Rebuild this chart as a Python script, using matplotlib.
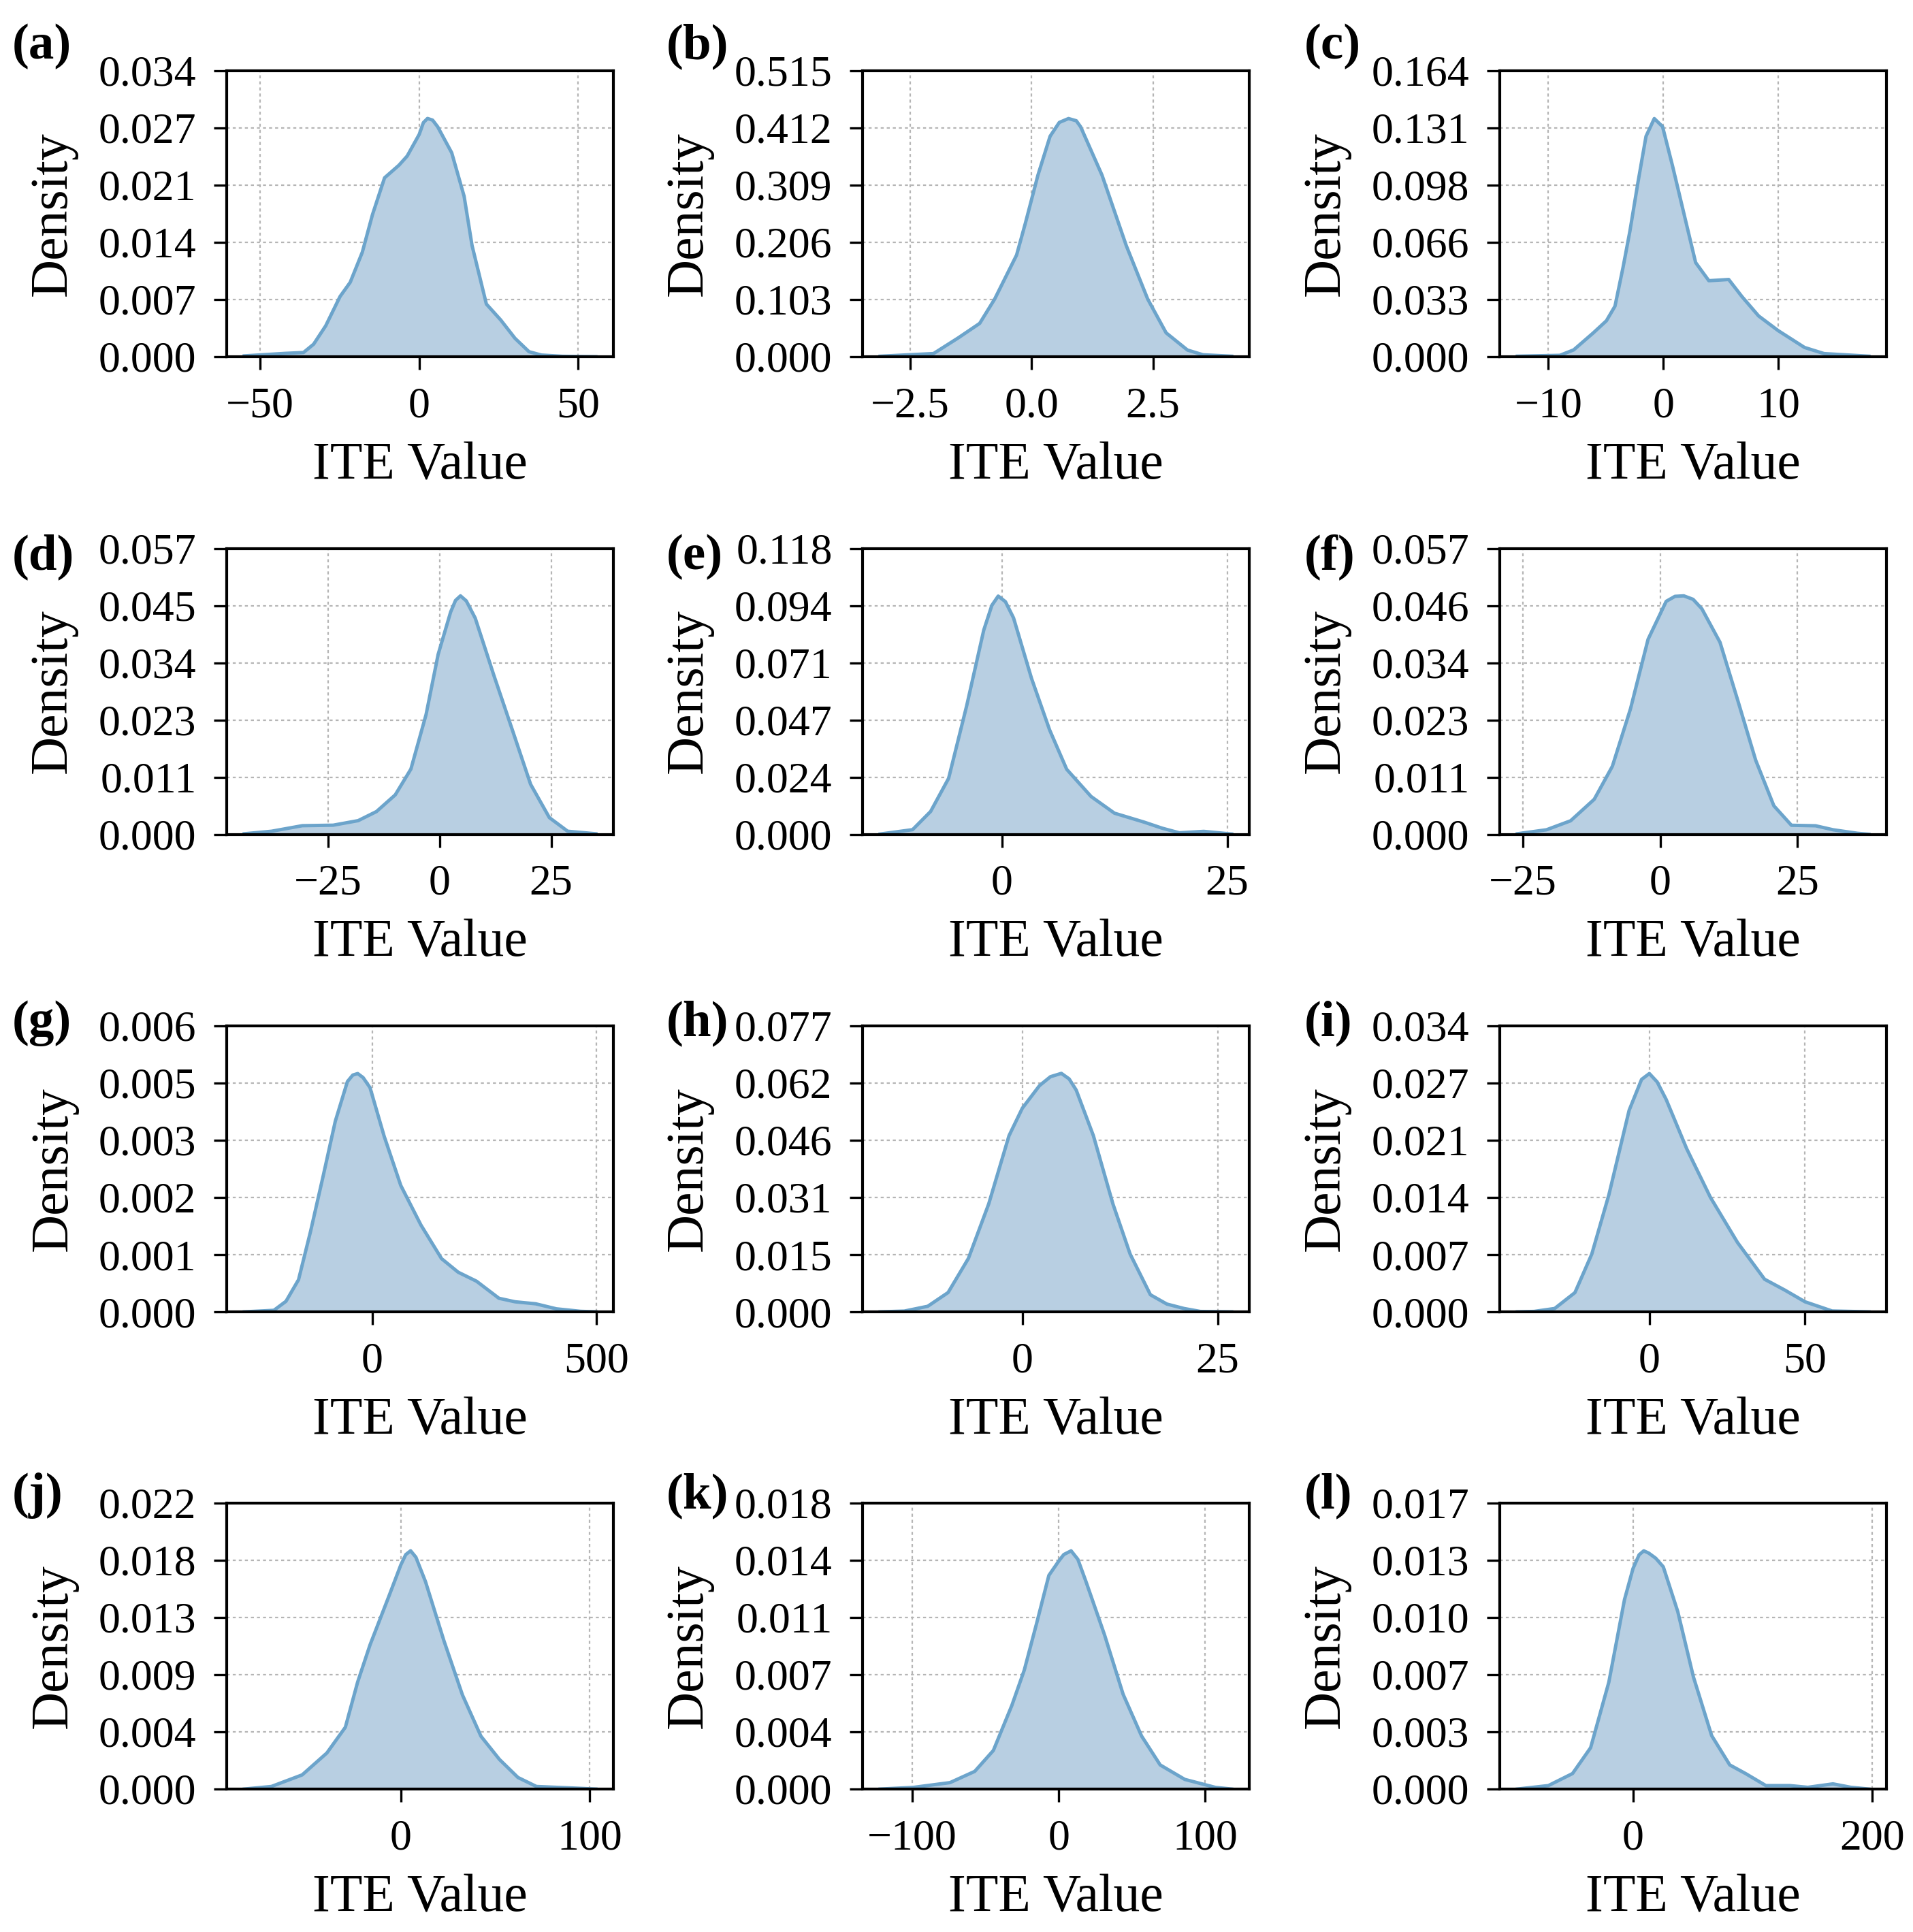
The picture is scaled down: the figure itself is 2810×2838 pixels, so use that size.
import matplotlib
matplotlib.use("Agg")
import matplotlib.pyplot as plt
import numpy as np

plt.rcParams["font.family"] = "serif"
plt.rcParams["font.serif"] = ["Liberation Serif", "DejaVu Serif"]

# KDE curves: ITE value -> density
a_ite = [-55, -42.2, -36.4, -33.2, -29.4, -24.9, -21.7, -17.9, -14.7, -10.9, -6.4, -3.8, 0, 1.3,
         2.6, 4.2, 5.8, 10.2, 14.1, 16.6, 21.1, 25.6, 30.1, 34.5, 38.4, 45, 55.5]
a_density = [0.0001, 0.0004, 0.0005, 0.0015, 0.0037, 0.0072, 0.0089, 0.0125, 0.017, 0.0214,
             0.0229, 0.024, 0.0266, 0.0280, 0.0285, 0.0283, 0.0275, 0.0244, 0.0192, 0.0133,
             0.0063, 0.0044, 0.0022, 0.0006, 0.0002, 0.00005, 0.0]

b_ite = [-3.12, -2.02, -1.51, -1.07, -0.76, -0.31, -0.13, 0.13, 0.38, 0.57, 0.76, 0.92, 1.01,
         1.45, 1.95, 2.39, 2.77, 3.21, 3.53, 4.12]
b_density = [0.0009, 0.0057, 0.034, 0.060, 0.104, 0.183, 0.240, 0.327, 0.397, 0.422, 0.429,
             0.425, 0.414, 0.327, 0.200, 0.104, 0.043, 0.012, 0.0035, 0.0009]

c_ite = [-12.7, -9.0, -7.8, -6.1, -4.95, -4.2, -3.5, -2.9, -2.2, -1.5, -0.78, -0.06, 0.8, 1.96,
         2.82, 3.97, 5.7, 6.85, 8.3, 10.0, 12.3, 14.0, 17.9]
c_density = [0.0003, 0.0008, 0.0039, 0.0136, 0.0206, 0.029, 0.0512, 0.0721, 0.100, 0.1264,
             0.1366, 0.132, 0.1097, 0.0777, 0.054, 0.0436, 0.0443, 0.0345, 0.0234, 0.015,
             0.0053, 0.0018, 0.0003]

d_ite = [-43.7, -37.6, -30.7, -23.8, -18.2, -14.1, -9.9, -6.4, -3.0, -0.3, 2.5, 3.6, 4.7, 6.0,
         8.0, 12.2, 16.3, 20.4, 24.6, 28.7, 35.0]
d_density = [0.0001, 0.0006, 0.0017, 0.0018, 0.0027, 0.0045, 0.0078, 0.0129, 0.0237, 0.0356,
             0.044, 0.0463, 0.0472, 0.0462, 0.0428, 0.0314, 0.0207, 0.0099, 0.0033, 0.0006,
             0.0001]

e_ite = [-13.5, -9.9, -7.9, -5.9, -3.9, -2.0, -1.1, -0.4, 0.4, 1.3, 3.3, 5.3, 7.2, 9.9, 12.5,
         15.8, 17.8, 19.7, 22.4, 25.5]
e_density = [0.0001, 0.0019, 0.0094, 0.0231, 0.053, 0.0843, 0.0945, 0.0983, 0.0960, 0.0893,
             0.0643, 0.0431, 0.0268, 0.0156, 0.0087, 0.005, 0.0025, 0.0006, 0.0012, 0.0001]

f_ite = [-26.0, -20.7, -16.3, -12.0, -8.7, -5.4, -2.2, 1.1, 2.7, 4.3, 6.0, 7.6, 10.9, 14.1,
         17.4, 20.7, 23.9, 28.3, 31.5, 35.9, 38.0]
f_density = [0.0001, 0.0009, 0.0027, 0.007, 0.0136, 0.0251, 0.039, 0.0466, 0.0476, 0.0477,
             0.0470, 0.0451, 0.0384, 0.0269, 0.0148, 0.0057, 0.0018, 0.0017, 0.0009, 0.0002,
             0.0]

g_ite = [-285, -219, -192, -164, -137, -109, -82, -55, -43, -32, -20, -4.6, 27, 64, 109, 155,
         192, 233, 283, 319, 365, 411, 465, 499]
g_density = [0.0, 0.00003, 0.00021, 0.00064, 0.00161, 0.00271, 0.0038, 0.00459, 0.00472,
             0.00475, 0.00467, 0.00447, 0.0035, 0.00252, 0.00173, 0.00106, 0.00079, 0.00061,
             0.00027, 0.0002, 0.00016, 0.00006, 0.00001, 0.0]

h_ite = [-18.2, -15.1, -12.1, -9.5, -6.9, -4.3, -1.7, 0, 2.2, 3.6, 5.0, 6.0, 6.9, 9.1, 11.6,
         13.8, 16.4, 18.5, 20.7, 22.8, 26.8]
h_density = [0.0, 0.0002, 0.0015, 0.0052, 0.0144, 0.0291, 0.0475, 0.0549, 0.061, 0.0634,
             0.0643, 0.0628, 0.0598, 0.0475, 0.0291, 0.0156, 0.0046, 0.0021, 0.0009, 0.0001,
             0.0]

i_ite = [-42.4, -37, -30.4, -23.9, -18.5, -13.0, -6.5, -2.5, 0, 2.5, 5.4, 12.0, 19.6, 28.3,
         37, 43.5, 50, 58.7, 70.5]
i_density = [0.0, 0.00005, 0.0004, 0.0023, 0.0069, 0.014, 0.0241, 0.0278, 0.0285, 0.0275,
             0.0254, 0.0195, 0.0137, 0.0083, 0.0039, 0.0026, 0.0012, 0.0001, 0.0]

j_ite = [-83, -68.6, -52.3, -39.2, -29.4, -22.9, -16.3, -6.5, 0, 2.6, 5.2, 8.0, 13.1, 22.9,
         32.7, 42.5, 52.3, 62.1, 71.9, 88, 103.4]
j_density = [0.0, 0.0002, 0.0011, 0.0028, 0.0048, 0.0083, 0.0112, 0.0149, 0.0174, 0.0182,
             0.0185, 0.0180, 0.0161, 0.0115, 0.0073, 0.0041, 0.0023, 0.0009, 0.0002, 0.0001,
             0.0]

k_ite = [-122, -99.6, -74.3, -57.4, -44.7, -32.1, -23.6, -15.2, -6.8, 0, 3.4, 8.4, 13, 18.6,
         31.2, 43.9, 56.5, 69.2, 86, 107, 118]
k_density = [0.0, 0.0001, 0.0004, 0.0011, 0.0024, 0.0052, 0.0074, 0.0103, 0.0133, 0.0142,
             0.0146, 0.01483, 0.0143, 0.0129, 0.0096, 0.0059, 0.0033, 0.0015, 0.0006, 0.0001,
             0.0]

l_ite = [-96.6, -70.7, -50.5, -35.4, -20.2, -7.1, 0, 5.1, 9, 13.1, 19, 25.3, 37.4, 50.5, 65.7,
         80.8, 94, 111, 131, 146, 167, 182, 197]
l_density = [0.0, 0.0002, 0.0009, 0.0024, 0.0062, 0.011, 0.0128, 0.0136, 0.01383, 0.0137,
             0.0134, 0.0129, 0.0103, 0.0065, 0.0031, 0.0014, 0.0009, 0.0002, 0.0002, 0.0001,
             0.0003, 0.0001, 0.0]

panel_names = ["a", "b", "c", "d", "e", "f", "g", "h", "i", "j", "k", "l"]
curves = {
    "a": (a_ite, a_density), "b": (b_ite, b_density), "c": (c_ite, c_density),
    "d": (d_ite, d_density), "e": (e_ite, e_density), "f": (f_ite, f_density),
    "g": (g_ite, g_density), "h": (h_ite, h_density), "i": (i_ite, i_density),
    "j": (j_ite, j_density), "k": (k_ite, k_density), "l": (l_ite, l_density),
}
# top of the density axis (ticks are 6 even steps up to it)
y_top = {"a": 0.0342, "b": 0.515, "c": 0.164, "d": 0.0566, "e": 0.118, "f": 0.0572,
         "g": 0.0057, "h": 0.0771, "i": 0.0342, "j": 0.0222, "k": 0.0178, "l": 0.0166}
x_ticks = {"a": [-50, 0, 50], "b": [-2.5, 0.0, 2.5], "c": [-10, 0, 10], "d": [-25, 0, 25],
           "e": [0, 25], "f": [-25, 0, 25], "g": [0, 500], "h": [0, 25], "i": [0, 50],
           "j": [0, 100], "k": [-100, 0, 100], "l": [0, 200]}

W, H = 2810, 2838
fig = plt.figure(figsize=(W / 200, H / 200), dpi=200)

col_left = [333, 1267, 2203]
row_bottom = [524, 1225.5, 1927, 2628]
ax_w, ax_h = 568, 420
label_x = [18, 979, 1916]
label_y = [68, 818, 1503, 2197]

fill_color = "#b8cfe2"
line_color = "#6ca4cb"

for idx, name in enumerate(panel_names):
    r, c = divmod(idx, 3)
    ax = fig.add_axes([col_left[c] / W, 1 - row_bottom[r] / H, ax_w / W, ax_h / H])
    xs, ys = curves[name]
    ax.fill_between(xs, ys, 0, color=fill_color, lw=0)
    ax.plot(xs, ys, color=line_color, lw=1.8, solid_joinstyle="round")
    ax.set_ylim(0, y_top[name])
    ax.set_yticks(np.linspace(0, y_top[name], 6))
    ax.yaxis.set_major_formatter(plt.FormatStrFormatter("%.3f"))
    ax.set_xticks(x_ticks[name])
    ax.grid(True, linestyle=(0, (2, 2)), color="#b5b5b5", lw=0.8)
    ax.set_axisbelow(True)
    ax.tick_params(labelsize=23, length=7, width=1.2, pad=9)
    for sp in ax.spines.values():
        sp.set_linewidth(1.5)
    ax.set_xlabel("ITE Value", fontsize=28, labelpad=8)
    ax.set_ylabel("Density", fontsize=28, labelpad=11)
    fig.text(label_x[c] / W, 1 - label_y[r] / H, f"({name})", fontsize=27,
             fontweight="bold", ha="left", va="center")

fig.savefig("out.png", dpi=200)
